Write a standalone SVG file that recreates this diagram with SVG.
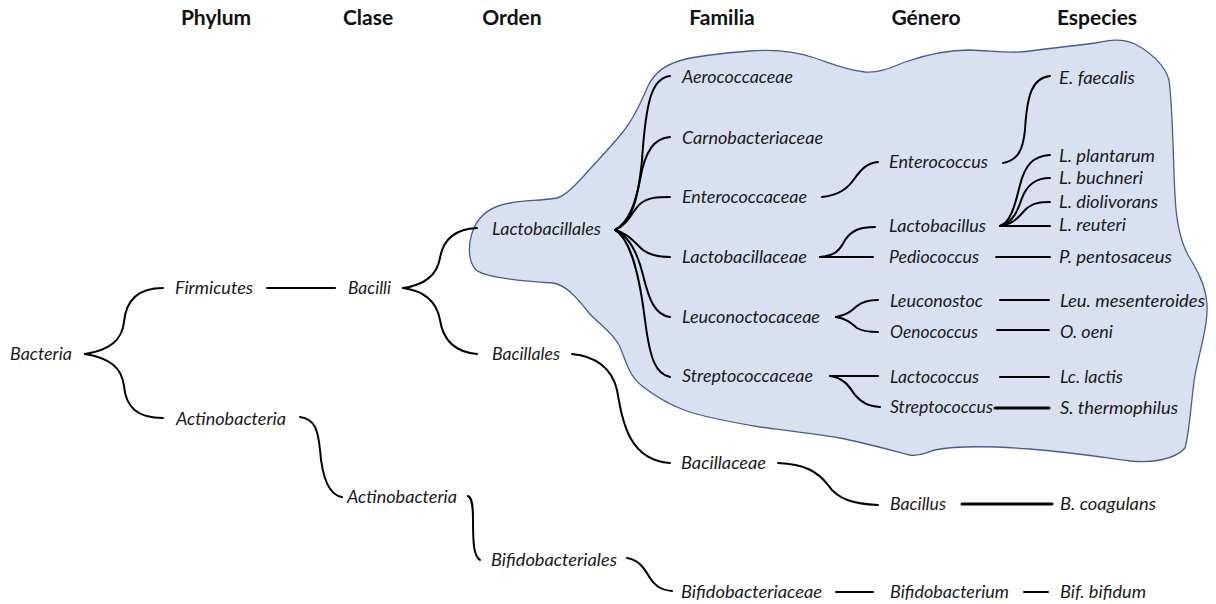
<svg xmlns="http://www.w3.org/2000/svg" width="1216" height="604" viewBox="0 0 1216 604">
<style>
.hdr{font-family:Lato,"Liberation Sans",sans-serif;font-weight:bold;font-size:21px;fill:#111;text-anchor:middle}
.t{font-family:Lato,"Liberation Sans",sans-serif;font-style:italic;font-size:17px;fill:#1a1a1a}
.c{fill:none;stroke:#000;stroke-width:2;stroke-linecap:round}
.thick{stroke-width:3}
.blob{fill:#d9e1f1;stroke:#4b5b8f;stroke-width:1.3}
</style>
<rect width="1216" height="604" fill="#fff"/>
<g id="region-lactobacillales">
<path class="blob" d="M557,198 C540,201 525,200 510,203 C492,206 480,214 474,228 C468,242 467,260 476,270 C486,278 520,281 553,283 C565,285 575,295 589,313 C600,325 612,332 619,345 C626,360 628,375 642,386 C655,396 668,404 684,410 C700,416 730,422 760,427 C790,431 815,434 840,438 C865,443 890,450 910,455 C920,457 926,452 935,450 C955,446 990,446 1030,449 C1070,452 1100,457 1130,461 C1150,463 1175,460 1185,448 C1190,430 1191,400 1195,375 C1200,350 1208,325 1207,305 C1206,285 1196,268 1188,255 C1180,240 1176,220 1175,195 C1173,160 1173,110 1169,80 C1165,65 1150,52 1135,44 C1122,38 1110,40 1095,43 C1075,46 1050,48 1030,51 C1010,54 995,51 970,50 C945,50 925,55 905,62 C890,68 880,73 865,72 C845,70 830,63 815,58 C795,51 775,49 750,51 C725,53 700,55 682,60 C665,65 655,72 648,86 C640,105 633,120 622,133 C610,148 595,163 582,178 C572,188 565,196 557,198 Z"/>
</g>
<g id="headers">
<text class="hdr" x="216" y="25">Phylum</text>
<text class="hdr" x="368" y="25">Clase</text>
<text class="hdr" x="512" y="25">Orden</text>
<text class="hdr" x="722" y="25">Familia</text>
<text class="hdr" x="926" y="25">Género</text>
<text class="hdr" x="1097" y="25">Especies</text>
</g>
<g id="connectors">
<path class="c" d="M85,354 C110,350 122,340 124,322 C126,300 138,288 163,288"/>
<path class="c" d="M85,354 C110,358 122,368 124,386 C126,408 138,418 163,418"/>
<path class="c" d="M267,288 L335,288"/>
<path class="c" d="M403,288 C425,285 437,275 440,258 C443,240 455,229 477,228"/>
<path class="c" d="M403,288 C425,291 437,303 440,320 C443,340 455,352 477,354"/>
<path class="c" d="M300,417 C315,419 318,430 320,450 C322,475 328,495 342,497"/>
<path class="c" d="M468,496 C472,498 473,505 473,520 C473,545 474,556 480,560"/>
<path class="c" d="M572,354 C595,356 612,368 617,390 C623,425 630,460 670,463"/>
<path class="c" d="M615,230 C632,222 638,200 642,160 C646,100 652,78 670,76"/>
<path class="c" d="M615,230 C630,222 636,200 640,180 C645,150 655,138 670,137"/>
<path class="c" d="M615,230 C628,225 633,210 640,204 C648,197 658,197 670,197"/>
<path class="c" d="M615,230 C628,233 635,243 643,250 C651,256 660,257 670,257"/>
<path class="c" d="M615,230 C630,236 638,255 643,275 C649,300 655,315 670,317"/>
<path class="c" d="M615,230 C632,240 640,280 645,320 C650,360 656,374 670,377"/>
<path class="c" d="M822,197 C840,195 848,188 855,178 C862,168 868,163 878,162"/>
<path class="c" d="M820,257 L873,257"/>
<path class="c" d="M820,257 C835,256 840,250 845,240 C852,230 860,227 875,227"/>
<path class="c" d="M1003,163 C1018,160 1023,150 1025,130 C1027,95 1032,78 1050,76"/>
<path class="c" d="M1000,226 L1050,226"/>
<path class="c" d="M1000,226 C1015,224 1020,215 1025,210 C1032,203 1040,202 1050,202"/>
<path class="c" d="M1000,226 C1013,223 1018,210 1022,198 C1027,185 1035,178 1050,178"/>
<path class="c" d="M1000,226 C1012,222 1016,200 1020,185 C1025,165 1033,156 1050,155"/>
<path class="c" d="M996,257 L1050,257"/>
<path class="c" d="M836,317 C848,315 852,310 857,306 C862,302 868,300 878,300"/>
<path class="c" d="M836,317 C848,319 852,324 857,328 C862,331 868,332 878,332"/>
<path class="c" d="M1000,300 L1049,300"/>
<path class="c" d="M997,330 L1049,330"/>
<path class="c" d="M830,376 L878,376"/>
<path class="c" d="M830,376 C845,378 850,388 855,395 C862,403 868,406 880,407"/>
<path class="c" d="M1000,377 L1049,377"/>
<path class="c thick" d="M995,408 L1049,408"/>
<path class="c" d="M778,463 C805,464 818,472 828,485 C838,500 855,504 878,505"/>
<path class="c thick" d="M962,504 L1052,504"/>
<path class="c" d="M627,558 C640,560 645,570 650,578 C656,587 662,590 672,591"/>
<path class="c" d="M836,592 L873,592"/>
<path class="c" d="M1024,592 L1048,592"/>
</g>
<g id="n-bacteria"><text class="t" x="10" y="360" textLength="62" lengthAdjust="spacingAndGlyphs">Bacteria</text></g>
<g id="n-firmicutes"><text class="t" x="175" y="294" textLength="78" lengthAdjust="spacingAndGlyphs">Firmicutes</text></g>
<g id="n-actinobacteria-phylum"><text class="t" x="176" y="425" textLength="110" lengthAdjust="spacingAndGlyphs">Actinobacteria</text></g>
<g id="n-bacilli"><text class="t" x="348" y="294" textLength="43" lengthAdjust="spacingAndGlyphs">Bacilli</text></g>
<g id="n-actinobacteria-clase"><text class="t" x="347" y="503" textLength="110" lengthAdjust="spacingAndGlyphs">Actinobacteria</text></g>
<g id="n-lactobacillales"><text class="t" x="492" y="235" textLength="109" lengthAdjust="spacingAndGlyphs">Lactobacillales</text></g>
<g id="n-bacillales"><text class="t" x="492" y="360" textLength="68" lengthAdjust="spacingAndGlyphs">Bacillales</text></g>
<g id="n-bifidobacteriales"><text class="t" x="491" y="566" textLength="126" lengthAdjust="spacingAndGlyphs">Bifidobacteriales</text></g>
<g id="n-aerococcaceae"><text class="t" x="682" y="83" textLength="111" lengthAdjust="spacingAndGlyphs">Aerococcaceae</text></g>
<g id="n-carnobacteriaceae"><text class="t" x="682" y="144" textLength="141" lengthAdjust="spacingAndGlyphs">Carnobacteriaceae</text></g>
<g id="n-enterococcaceae"><text class="t" x="682" y="203" textLength="125" lengthAdjust="spacingAndGlyphs">Enterococcaceae</text></g>
<g id="n-lactobacillaceae"><text class="t" x="682" y="263" textLength="125" lengthAdjust="spacingAndGlyphs">Lactobacillaceae</text></g>
<g id="n-leuconoctocaceae"><text class="t" x="682" y="323" textLength="138" lengthAdjust="spacingAndGlyphs">Leuconoctocaceae</text></g>
<g id="n-streptococcaceae"><text class="t" x="682" y="382" textLength="131" lengthAdjust="spacingAndGlyphs">Streptococcaceae</text></g>
<g id="n-bacillaceae"><text class="t" x="681" y="469" textLength="85" lengthAdjust="spacingAndGlyphs">Bacillaceae</text></g>
<g id="n-bifidobacteriaceae"><text class="t" x="681" y="598" textLength="141" lengthAdjust="spacingAndGlyphs">Bifidobacteriaceae</text></g>
<g id="n-enterococcus"><text class="t" x="889" y="168" textLength="99" lengthAdjust="spacingAndGlyphs">Enterococcus</text></g>
<g id="n-lactobacillus"><text class="t" x="889" y="232" textLength="97" lengthAdjust="spacingAndGlyphs">Lactobacillus</text></g>
<g id="n-pediococcus"><text class="t" x="889" y="263" textLength="90" lengthAdjust="spacingAndGlyphs">Pediococcus</text></g>
<g id="n-leuconostoc"><text class="t" x="890" y="307" textLength="93" lengthAdjust="spacingAndGlyphs">Leuconostoc</text></g>
<g id="n-oenococcus"><text class="t" x="890" y="338" textLength="88" lengthAdjust="spacingAndGlyphs">Oenococcus</text></g>
<g id="n-lactococcus"><text class="t" x="890" y="383" textLength="89" lengthAdjust="spacingAndGlyphs">Lactococcus</text></g>
<g id="n-streptococcus"><text class="t" x="890" y="413" textLength="103" lengthAdjust="spacingAndGlyphs">Streptococcus</text></g>
<g id="n-bacillus"><text class="t" x="890" y="510" textLength="56" lengthAdjust="spacingAndGlyphs">Bacillus</text></g>
<g id="n-bifidobacterium"><text class="t" x="890" y="598" textLength="119" lengthAdjust="spacingAndGlyphs">Bifidobacterium</text></g>
<g id="n-e-faecalis"><text class="t" x="1059" y="84" textLength="76" lengthAdjust="spacingAndGlyphs">E. faecalis</text></g>
<g id="n-l-plantarum"><text class="t" x="1059" y="162" textLength="96" lengthAdjust="spacingAndGlyphs">L. plantarum</text></g>
<g id="n-l-buchneri"><text class="t" x="1059" y="184" textLength="84" lengthAdjust="spacingAndGlyphs">L. buchneri</text></g>
<g id="n-l-diolivorans"><text class="t" x="1059" y="208" textLength="99" lengthAdjust="spacingAndGlyphs">L. diolivorans</text></g>
<g id="n-l-reuteri"><text class="t" x="1059" y="231" textLength="67" lengthAdjust="spacingAndGlyphs">L. reuteri</text></g>
<g id="n-p-pentosaceus"><text class="t" x="1059" y="263" textLength="113" lengthAdjust="spacingAndGlyphs">P. pentosaceus</text></g>
<g id="n-leu-mesenteroides"><text class="t" x="1060" y="307" textLength="145" lengthAdjust="spacingAndGlyphs">Leu. mesenteroides</text></g>
<g id="n-o-oeni"><text class="t" x="1060" y="338" textLength="53" lengthAdjust="spacingAndGlyphs">O. oeni</text></g>
<g id="n-lc-lactis"><text class="t" x="1060" y="383" textLength="63" lengthAdjust="spacingAndGlyphs">Lc. lactis</text></g>
<g id="n-s-thermophilus"><text class="t" x="1060" y="414" textLength="118" lengthAdjust="spacingAndGlyphs">S. thermophilus</text></g>
<g id="n-b-coagulans"><text class="t" x="1060" y="510" textLength="96" lengthAdjust="spacingAndGlyphs">B. coagulans</text></g>
<g id="n-bif-bifidum"><text class="t" x="1060" y="598" textLength="86" lengthAdjust="spacingAndGlyphs">Bif. bifidum</text></g>
</svg>
